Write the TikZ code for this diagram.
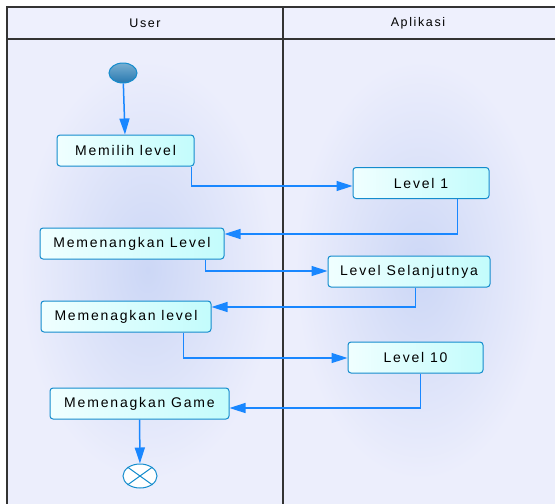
\documentclass[tikz,border=0pt]{standalone}
\usepackage{fontspec}
\setmainfont{Liberation Sans}[LetterSpace=13]
\usetikzlibrary{shapes.geometric,arrows.meta,positioning}

\definecolor{lanebg}{RGB}{236,238,252}
\definecolor{lanemid}{RGB}{204,215,246}
\definecolor{headbg}{RGB}{238,240,253}
\definecolor{flowblue}{RGB}{25,135,255}
\definecolor{boxline}{RGB}{20,140,205}
\definecolor{boxleft}{RGB}{240,255,255}
\definecolor{boxright}{RGB}{195,252,252}
\definecolor{starttop}{RGB}{120,175,210}
\definecolor{startbot}{RGB}{40,120,175}

\begin{document}
\begin{tikzpicture}[x=1pt,y=-1pt,
    activity/.style={rectangle, rounded corners=3pt, draw=boxline, line width=1pt,
        left color=boxleft, right color=boxright, minimum height=31pt,
        font=\fontsize{14}{16}\selectfont, text=black},
    flow/.style={draw=flowblue, line width=1.5pt, -{Triangle[length=16pt,width=10pt]}},
    lane/.style={draw=black!80, line width=1.4pt}
    ]

    \useasboundingbox (0,0) rectangle (555,504);

    % swimlane background
    \fill[lanebg] (7,7) rectangle (555,504);
    \shade[inner color=lanemid, outer color=lanebg] (20,60) rectangle (275,480);
    \shade[inner color=lanemid, outer color=lanebg] (295,60) rectangle (545,480);
    \fill[headbg] (7,7) rectangle (555,39);

    \draw[lane] (555,7) -- (7,7) -- (7,504);
    \draw[lane] (7,39) -- (555,39);
    \draw[lane] (283,7) -- (283,504);

    \node (user) at (145,23) {\fontsize{12.5}{14}\selectfont User};
    \node (app) at (418,23) {\fontsize{12.5}{14}\selectfont Aplikasi};

    \node[ellipse, draw=boxline, line width=1pt, top color=starttop, bottom color=startbot,
        minimum width=28pt, minimum height=20pt, inner sep=0pt] (start) at (123,73) {};

    \node[activity, minimum width=137pt] (pilih) at (125.5,150.5) {Memilih level};
    \node[activity, minimum width=136pt] (lv1) at (421,183) {Level 1};
    \node[activity, minimum width=184pt] (menang1) at (132,243.5) {Memenangkan Level};
    \node[activity, minimum width=162pt] (lanjut) at (409,271.5) {Level Selanjutnya};
    \node[activity, minimum width=170pt] (menang2) at (126,316.5) {Memenagkan level};
    \node[activity, minimum width=135pt] (lv10) at (415.5,357.5) {Level 10};
    \node[activity, minimum width=179pt] (game) at (139.5,403.5) {Memenagkan Game};

    \node[ellipse, draw=boxline, line width=1pt, fill=white,
        minimum width=34pt, minimum height=24pt, inner sep=0pt] (finish) at (140,476) {};
    \draw[boxline, line width=1pt] (finish.north east) -- (finish.south west);
    \draw[boxline, line width=1pt] (finish.north west) -- (finish.south east);

    % exit points under the activities
    \coordinate (o1) at ([xshift=-3pt]pilih.south east);
    \coordinate (o2) at ([xshift=-32pt]lv1.south east);
    \coordinate (o3) at ([xshift=-19pt]menang1.south east);
    \coordinate (o4) at ([xshift=-75pt]lanjut.south east);
    \coordinate (o5) at ([xshift=-28pt]menang2.south east);
    \coordinate (o6) at ([xshift=-63pt]lv10.south east);

    \draw[flow] (start) -- (pilih);
    \draw[flow] (o1) |- ([yshift=-3pt]lv1.west);
    \draw[flow] (o2) |- ([yshift=9.5pt]menang1.east);
    \draw[flow] (o3) |- ([yshift=0.5pt]lanjut.west);
    \draw[flow] (o4) |- ([yshift=9.5pt]menang2.east);
    \draw[flow] (o5) |- ([yshift=-0.5pt]lv10.west);
    \draw[flow] (o6) |- ([yshift=-4.5pt]game.east);
    \draw[flow] (game) -- (finish);
\end{tikzpicture}
\end{document}
